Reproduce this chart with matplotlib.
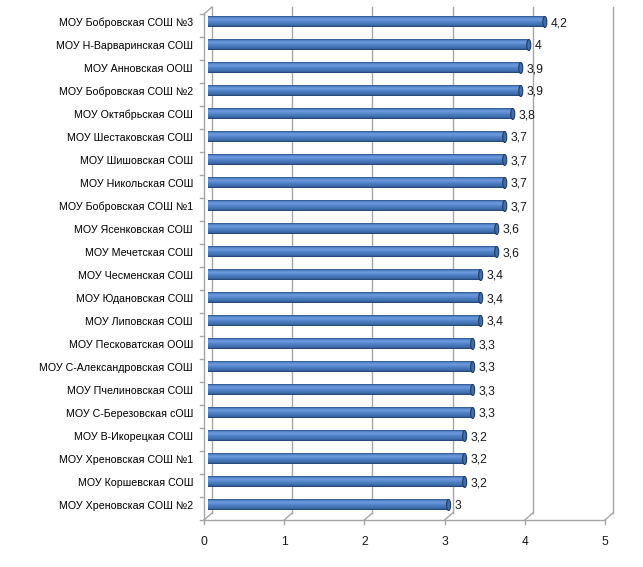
import matplotlib
matplotlib.use("Agg")
import matplotlib.pyplot as plt
import numpy as np
from matplotlib.colors import LinearSegmentedColormap
from matplotlib.patches import Ellipse

categories = [
    "МОУ Бобровская СОШ №3",
    "МОУ Н-Варваринская СОШ",
    "МОУ Анновская ООШ",
    "МОУ Бобровская СОШ №2",
    "МОУ Октябрьская СОШ",
    "МОУ Шестаковская СОШ",
    "МОУ Шишовская СОШ",
    "МОУ Никольская СОШ",
    "МОУ Бобровская СОШ №1",
    "МОУ Ясенковская СОШ",
    "МОУ Мечетская СОШ",
    "МОУ Чесменская СОШ",
    "МОУ Юдановская СОШ",
    "МОУ Липовская СОШ",
    "МОУ Песковатская ООШ",
    "МОУ С-Александровская СОШ",
    "МОУ Пчелиновская СОШ",
    "МОУ С-Березовская сОШ",
    "МОУ В-Икорецкая СОШ",
    "МОУ Хреновская СОШ №1",
    "МОУ Коршевская СОШ",
    "МОУ Хреновская СОШ №2",
]
values = [4.2, 4, 3.9, 3.9, 3.8, 3.7, 3.7, 3.7, 3.7, 3.6, 3.6,
          3.4, 3.4, 3.4, 3.3, 3.3, 3.3, 3.3, 3.2, 3.2, 3.2, 3]
xticks = [0, 1, 2, 3, 4, 5]

plt.rcParams['font.family'] = ['Liberation Sans', 'DejaVu Sans']

W, H = 643, 567
fig = plt.figure(figsize=(W / 100, H / 100), dpi=100)
ax = fig.add_axes([208 / W, (H - 516.5) / H, 401 / W, 506 / H])
n = len(categories)
ypos = np.arange(n)[::-1]  # top category highest
xmax = 5
ax.set_xlim(0, xmax)
ax.set_ylim(-0.5, n - 0.5)
ax.axis('off')

px_x = xmax / 401.0          # data units per pixel in x
px_y = n / 506.0             # data units per pixel in y
dxu, dyu = 4 * px_x, 3.5 * px_y   # half depth offset
grid_c = '#a6a6a6'
lw = 1.0

y_top, y_bot = n - 0.5, -0.5
# back wall gridlines
for t in xticks:
    ax.plot([t + dxu, t + dxu], [y_bot + dyu, y_top + dyu], color=grid_c, lw=lw, clip_on=False, zorder=1)
    # floor diagonals
    ax.plot([t - dxu, t + dxu], [y_bot - dyu, y_bot + dyu], color=grid_c, lw=lw, clip_on=False, zorder=1)
    # small tick below front floor
    ax.plot([t - dxu, t - dxu], [y_bot - dyu, y_bot - dyu - 4 * px_y], color=grid_c, lw=lw, clip_on=False, zorder=1)
    ax.text(t - dxu, y_bot - dyu - 22 * px_y, str(t), ha='center', va='center',
            fontsize=8.7, color='#1a1a1a')
# front floor line
ax.plot([0 - dxu, xmax - dxu], [y_bot - dyu, y_bot - dyu], color=grid_c, lw=lw, clip_on=False, zorder=1)
# front left axis
ax.plot([-dxu, -dxu], [y_bot - dyu, y_top - dyu], color=grid_c, lw=lw, clip_on=False, zorder=1)
# top-left slant
ax.plot([-dxu, dxu], [y_top - dyu, y_top + dyu], color=grid_c, lw=lw, clip_on=False, zorder=1)
# left axis ticks at category boundaries
for b in np.arange(-0.5, n, 1.0):
    ax.plot([-dxu, -dxu - 4 * px_x], [b - dyu, b - dyu], color=grid_c, lw=lw, clip_on=False, zorder=1)

# bars (cylinders)
cmap = LinearSegmentedColormap.from_list('cyl', [
    (0.0, '#2c4f80'), (0.12, '#5685cc'), (0.3, '#6f9bdc'), (0.55, '#4f81c6'),
    (0.85, '#3c6aaa'), (1.0, '#213f6a')])
grad = np.linspace(0, 1, 64).reshape(-1, 1)
bh = 11 * px_y
for v, y, lab in zip(values, ypos, categories):
    ax.imshow(grad, extent=[-1 * px_x, v, y - bh / 2, y + bh / 2], aspect='auto',
              cmap=cmap, origin='upper', zorder=3, interpolation='bilinear')
    ax.add_patch(Ellipse((v, y), 4 * px_x, bh, facecolor='#3f6eb0', edgecolor='#1f3d66',
                         lw=0.8, zorder=4))
    ax.text(v + 6 * px_x, y - 1 * px_y, f"{v:g}".replace('.', ','), ha='left', va='center',
            fontsize=8.7, color='#1a1a1a', zorder=5)
    ax.text(-15 * px_x, y - 1 * px_y, lab, ha='right', va='center', fontsize=7.7,
            color='#000000')

ax.set_xlim(0, xmax)
ax.set_ylim(-0.5, n - 0.5)
fig.savefig('out.png', dpi=100)
